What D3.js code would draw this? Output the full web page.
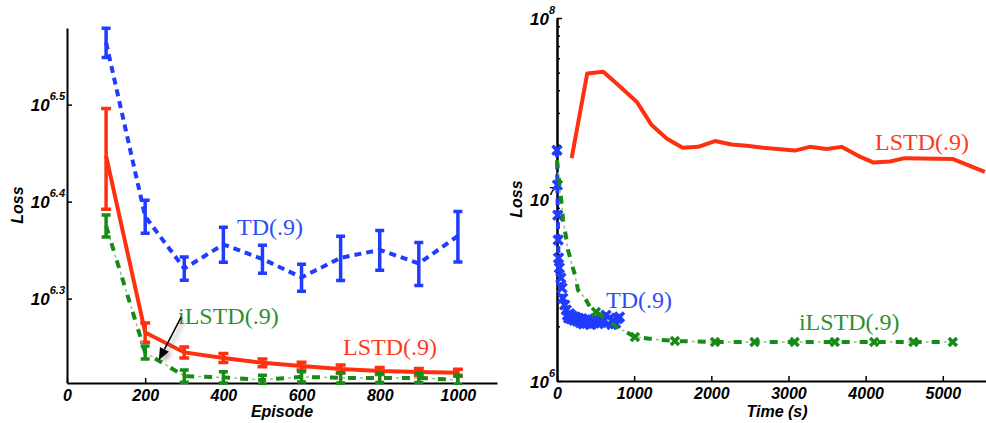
<!DOCTYPE html>
<html><head><meta charset="utf-8">
<script src="https://cdn.jsdelivr.net/npm/d3@7"></script>
<style>body{margin:0;background:#fff}svg{display:block}</style>
</head><body>
<svg id="c" width="986" height="423"></svg>
<script>
// ---------- DATA ----------
const episodes = [100,200,300,400,500,600,700,800,900,1000];
const tdMean    = [3.664e6,2.425e6,2.143e6,2.269e6,2.192e6,2.098e6,2.198e6,2.240e6,2.169e6,2.315e6];
const tdErr     = [0.127e6,0.095e6,0.059e6,0.094e6,0.073e6,0.067e6,0.115e6,0.106e6,0.111e6,0.138e6];
const lstdMean  = [2.800e6,1.841e6,1.756e6,1.733e6,1.713e6,1.700e6,1.688e6,1.680e6,1.676e6,1.673e6];
const lstdErr   = [0.333e6,0.042e6,0.023e6,0.019e6,0.016e6,0.016e6,0.016e6,0.014e6,0.014e6,0.014e6];
const ilstdMean = [2.371e6,1.756e6,1.660e6,1.655e6,1.645e6,1.657e6,1.653e6,1.653e6,1.653e6,1.645e6];
const ilstdErr  = [0.062e6,0.027e6,0.024e6,0.022e6,0.018e6,0.020e6,0.020e6,0.018e6,0.018e6,0.018e6];

const lstdTimeT    = [190,392,600,794,1032,1227,1421,1628,1830,2047,2263,2457,2672,3083,3277,3494,3688,3903,4097,4313,4508,4724,5133,5544];
const lstdTimeLoss = [1.69e7,4.95e7,5.06e7,4.28e7,3.46e7,2.57e7,2.17e7,1.93e7,1.95e7,2.10e7,2.01e7,1.98e7,1.93e7,1.86e7,1.95e7,1.90e7,1.95e7,1.74e7,1.60e7,1.62e7,1.69e7,1.68e7,1.67e7,1.42e7];

const tdTimeT    = [0,5,10,15,20,30,50,65,75,100,120,135,150,165,180,200,220,240,260,280,300,320,340,360,385,410,435,460,485,510,535,560,585,610,635,660,685,710,735,760,785,810];
const tdTimeLoss = [1.87e7,1.20e7,8.2e6,5.98e6,4.76e6,4.20e6,3.69e6,3.25e6,2.86e6,2.62e6,2.46e6,2.30e6,2.22e6,2.35e6,2.20e6,2.28e6,2.16e6,2.25e6,2.14e6,2.22e6,2.10e6,2.18e6,2.06e6,2.15e6,2.08e6,2.20e6,2.05e6,2.14e6,2.09e6,2.18e6,2.07e6,2.16e6,2.24e6,2.12e6,2.30e6,2.10e6,2.22e6,2.05e6,2.16e6,2.08e6,2.20e6,2.25e6];

const ilstdTimeT    = [0,39,65,78,117,143,194,233,272,363,428,505,622,790,920,1010,1244,1528,2047,2560,3080,3600,4110,4620,5130];
const ilstdTimeLoss = [1.65e7,1.13e7,9.09e6,7.71e6,6.21e6,5.27e6,4.36e6,3.84e6,3.17e6,2.86e6,2.56e6,2.40e6,2.22e6,1.96e6,1.84e6,1.75e6,1.70e6,1.66e6,1.64e6,1.64e6,1.64e6,1.64e6,1.64e6,1.64e6,1.64e6];
const ilstdMarkIdx  = [11,15,17,18,19,20,21,22,23,24];

const leftXTicks  = [0,200,400,600,800,1000];
const leftYExp    = [6.3,6.4,6.5];
const rightXTicks = [0,1000,2000,3000,4000,5000];
const rightYExp   = [6,7,8];

// ---------- STYLE ----------
const BLUE="#1f3cff", RED="#ff3010", GREEN="#178a17";
const TBLUE="#2e4ef5", TRED="#ff3a1a", TGREEN="#2f8f2f";
const SANS="'Liberation Sans', Arial, Helvetica, sans-serif";
const SERIF="'Liberation Serif', 'Times New Roman', serif";
const svg = d3.select("#c");
const defs = svg.append("defs");
defs.append("filter").attr("id","blur").append("feGaussianBlur").attr("stdDeviation",2);
defs.append("clipPath").attr("id","clipL").append("rect").attr("x",60).attr("y",24).attr("width",440).attr("height",361);

function sansText(sel, size){
  return sel.attr("font-family",SANS).attr("font-size",size).attr("font-weight","bold").attr("font-style","italic").attr("fill","#000");
}
function serifText(sel, color){
  return sel.attr("font-family",SERIF).attr("font-size",24).attr("font-weight","normal").attr("fill",color);
}

// ---------- SCALES ----------
const xL = d3.scaleLinear([0,1100],[67,497]);
const yL = d3.scaleLog([Math.pow(10,6.213),Math.pow(10,6.579)],[383,28]);
const xR = d3.scaleLinear([0,5560],[557,986]);
const yR = d3.scaleLog([1e6,1e8],[381,18]);

function styleAxis(g){
  g.attr("font-family",null).attr("font-size",null);
  g.selectAll(".domain").attr("stroke","#000").attr("stroke-width",2);
  g.selectAll(".tick line").attr("stroke","#000").attr("stroke-width",1.5);
  sansText(g.selectAll(".tick text"),16);
}
function powLabels(g, expOf){
  g.selectAll(".tick text").each(function(d){
    const t=d3.select(this); t.text(null).attr("x",-2).attr("dy",null).attr("y",6);
    sansText(t.append("tspan").text("10"),17);
    sansText(t.append("tspan").text(expOf(d)).attr("dy",-11),11);
  });
}

// ---------- LEFT AXES ----------
const gLx = svg.append("g").attr("transform","translate(0,383)")
  .call(d3.axisBottom(xL).tickValues(leftXTicks).tickSizeInner(-5).tickSizeOuter(0).tickFormat(d3.format("d")));
styleAxis(gLx);
gLx.selectAll(".tick text").attr("dy",null).attr("y",18);
const gLy = svg.append("g").attr("transform","translate(67,0)")
  .call(d3.axisLeft(yL).tickValues(leftYExp.map(e=>Math.pow(10,e))).tickSizeInner(-5).tickSizeOuter(0));
styleAxis(gLy);
powLabels(gLy, d=>String(Math.round(Math.log10(d)*10)/10));

sansText(svg.append("text").attr("transform","translate(23,205) rotate(-90)").attr("text-anchor","middle"),16).text("Loss");
sansText(svg.append("text").attr("x",(xL.range()[0]+xL.range()[1])/2).attr("y",417).attr("text-anchor","middle"),16).text("Episode");

// ---------- LEFT SERIES ----------
const pL = svg.append("g").attr("clip-path","url(#clipL)");
function errBars(mean, err, color, cap){
  episodes.forEach((e,i)=>{
    const x=xL(e), y1=yL(mean[i]+err[i]), y0=yL(mean[i]-err[i]);
    pL.append("path").attr("d",`M${x},${y0}V${y1}M${x-cap},${y0}H${x+cap}M${x-cap},${y1}H${x+cap}`)
      .attr("stroke",color).attr("stroke-width",3.5).attr("fill","none");
  });
}
const lineL = d3.line().x((d,i)=>xL(episodes[i])).y(d=>yL(d));
pL.append("path").attr("d",lineL(tdMean)).attr("fill","none").attr("stroke",BLUE).attr("stroke-width",4).attr("stroke-dasharray","7 5");
errBars(tdMean, tdErr, BLUE, 4.5);
pL.append("path").attr("d",lineL(lstdMean)).attr("fill","none").attr("stroke",RED).attr("stroke-width",4);
errBars(lstdMean, lstdErr, RED, 5);
pL.append("path").attr("d",lineL(ilstdMean)).attr("fill","none").attr("stroke",GREEN).attr("stroke-width",4).attr("stroke-dasharray","8 10");
pL.append("path").attr("d",lineL(ilstdMean)).attr("fill","none").attr("stroke","#8cc48c").attr("stroke-width",1.5).attr("stroke-dasharray","3 15").attr("stroke-dashoffset",6);
errBars(ilstdMean, ilstdErr, GREEN, 4.5);

// left labels (data coords)
serifText(svg.append("text").attr("x",xL(435)).attr("y",yL(Math.pow(10,6.3656))),TBLUE).text("TD(.9)");
serifText(svg.append("text").attr("x",xL(284)).attr("y",yL(Math.pow(10,6.2738))),TGREEN).text("iLSTD(.9)");
serifText(svg.append("text").attr("x",xL(706)).attr("y",yL(Math.pow(10,6.2419))),TRED).text("LSTD(.9)");

// arrow
{
  const tail=[xL(292), yL(Math.pow(10,6.281))], tip=[xL(235), yL(Math.pow(10,6.2367))];
  const dx=tip[0]-tail[0], dy=tip[1]-tail[1], L=Math.hypot(dx,dy), ux=dx/L, uy=dy/L;
  const hl=12, hw=5;
  const base=[tip[0]-ux*hl, tip[1]-uy*hl];
  const head=`M${tip[0]},${tip[1]}L${base[0]-uy*hw},${base[1]+ux*hw}L${base[0]+uy*hw},${base[1]-ux*hw}Z`;
  const sh = svg.append("g").attr("transform","translate(3,3)").attr("filter","url(#blur)").attr("opacity",0.45);
  sh.append("path").attr("d",`M${tail[0]},${tail[1]}L${base[0]},${base[1]}`).attr("stroke","#555").attr("stroke-width",2);
  sh.append("path").attr("d",head).attr("fill","#555");
  svg.append("path").attr("d",`M${tail[0]},${tail[1]}L${base[0]},${base[1]}`).attr("stroke","#000").attr("stroke-width",1.5);
  svg.append("path").attr("d",head).attr("fill","#000");
}

// ---------- RIGHT AXES ----------
const gRx = svg.append("g").attr("transform","translate(0,381)")
  .call(d3.axisBottom(xR).tickValues(rightXTicks).tickSizeInner(-5).tickSizeOuter(0).tickFormat(d3.format("d")));
styleAxis(gRx);
gRx.selectAll(".tick text").attr("dy",null).attr("y",18);
const minor=[];
for(let e=6;e<8;e++) for(let k=2;k<=9;k++) minor.push(k*Math.pow(10,e));
const gRm = svg.append("g").attr("transform","translate(557,0)")
  .call(d3.axisLeft(yR).tickValues(minor).tickSizeInner(-3).tickSizeOuter(0).tickFormat(""));
styleAxis(gRm);
const gRy = svg.append("g").attr("transform","translate(557,0)")
  .call(d3.axisLeft(yR).tickValues(rightYExp.map(e=>Math.pow(10,e))).tickSizeInner(-5).tickSizeOuter(0));
styleAxis(gRy);
powLabels(gRy, d=>String(Math.round(Math.log10(d))));

sansText(svg.append("text").attr("transform","translate(522,199) rotate(-90)").attr("text-anchor","middle"),16).text("Loss");
sansText(svg.append("text").attr("x",777).attr("y",417).attr("text-anchor","middle"),16).text("Time (s)");

// ---------- RIGHT SERIES ----------
const lineR = d3.line().x(d=>xR(d[0])).y(d=>yR(d[1]));
const xMark = (s)=>`M${-s},${-s}L${s},${s}M${-s},${s}L${s},${-s}`;
svg.append("path").attr("d",lineR(lstdTimeT.map((t,i)=>[t,lstdTimeLoss[i]])))
  .attr("fill","none").attr("stroke",RED).attr("stroke-width",4).attr("stroke-linejoin","round");
{
  const pts = tdTimeT.map((t,i)=>[t,tdTimeLoss[i]]);
  svg.append("path").attr("d",lineR(pts)).attr("fill","none").attr("stroke",BLUE).attr("stroke-width",4).attr("stroke-dasharray","7 5");
  svg.append("g").selectAll("path").data(pts).join("path")
    .attr("transform",d=>`translate(${xR(d[0])},${yR(d[1])})`).attr("d",xMark(4.5))
    .attr("stroke",BLUE).attr("stroke-width",3.5).attr("fill","none");
}
{
  const pts = ilstdTimeT.map((t,i)=>[t,ilstdTimeLoss[i]]);
  svg.append("path").attr("d",lineR(pts)).attr("fill","none").attr("stroke",GREEN).attr("stroke-width",4).attr("stroke-dasharray","8 10");
  svg.append("path").attr("d",lineR(pts)).attr("fill","none").attr("stroke","#8cc48c").attr("stroke-width",1.5).attr("stroke-dasharray","3 15").attr("stroke-dashoffset",6);
  svg.append("g").selectAll("path").data(ilstdMarkIdx.map(i=>pts[i])).join("path")
    .attr("transform",d=>`translate(${xR(d[0])},${yR(d[1])})`).attr("d",xMark(4))
    .attr("stroke",GREEN).attr("stroke-width",3.5).attr("fill","none");
}
serifText(svg.append("text").attr("x",xR(4121)).attr("y",yR(Math.pow(10,7.2727))),TRED).text("LSTD(.9)");
serifText(svg.append("text").attr("x",xR(635)).attr("y",yR(Math.pow(10,6.402))),TBLUE).text("TD(.9)");
serifText(svg.append("text").attr("x",xR(3136)).attr("y",yR(Math.pow(10,6.281))),TGREEN).text("iLSTD(.9)");
</script>
</body></html>
